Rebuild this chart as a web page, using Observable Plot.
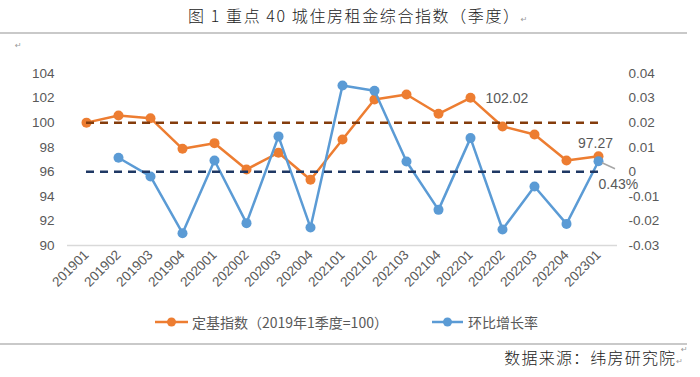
<!DOCTYPE html>
<html>
<head>
<meta charset="utf-8">
<script src="https://cdn.jsdelivr.net/npm/d3@7"></script>
<script src="https://cdn.jsdelivr.net/npm/@observablehq/plot@0.6"></script>
<style>
  html, body { margin: 0; padding: 0; background: #fff; }
  #page { position: relative; width: 700px; height: 377px; overflow: hidden; font-family: "Liberation Sans", "Noto Sans CJK SC", sans-serif; }
  .abs { position: absolute; white-space: nowrap; }
  .title { left: 188px; top: 4px; font-family: "Noto Sans CJK SC", sans-serif; font-weight: 300; font-size: 16px; line-height: 22px; color: #222; letter-spacing: 1.6px; }
  .hr { position: absolute; left: 0; width: 687px; height: 1.5px; background: #c9c9c9; }
  .mark { font-size: 8px; color: #999; font-family: "DejaVu Sans", sans-serif; font-weight: 400; }
  .legend { top: 312px; left: 0; font-size: 14px; line-height: 20px; color: #595959; font-family: "Noto Sans CJK SC", sans-serif; }
  .footer { right: 17px; top: 346px; font-family: "Noto Sans CJK SC", sans-serif; font-weight: 300; font-size: 16px; line-height: 22px; color: #222; letter-spacing: 1.2px; }
</style>
</head>
<body>
<div id="page"></div>
<script>
// ---- data ----
const quarters = ["201901","201902","201903","201904","202001","202002","202003","202004","202101","202102","202103","202104","202201","202202","202203","202204","202301"];
const indexValues = [100.00, 100.58, 100.36, 97.87, 98.33, 96.19, 97.55, 95.35, 98.63, 101.88, 102.29, 100.72, 102.02, 99.69, 99.04, 96.92, 97.27];
const growthValues = [null, 0.0057, -0.0019, -0.0250, 0.0046, -0.0209, 0.0144, -0.0227, 0.0351, 0.0330, 0.0042, -0.0155, 0.0137, -0.0235, -0.0060, -0.0212, 0.0043];
const leftTicks = [90, 92, 94, 96, 98, 100, 102, 104];
const rightTicks = [-0.03, -0.02, -0.01, 0, 0.01, 0.02, 0.03, 0.04];
const indexRef = 100;
const growthRef = 0;
const titleText = "图 1 重点 40 城住房租金综合指数（季度）";
const seriesNames = ["定基指数（2019年1季度=100）", "环比增长率"];
const sourceText = "数据来源：纬房研究院";
const labelledIndex = ["202201", "202301"];
const labelledGrowth = ["202301"];

const ORANGE = "#ED7D31", BLUE = "#5B9BD5";
const ORANGE_DASH = "#843C0C", BLUE_DASH = "#1F3864";

// right axis (growth) mapped onto left axis (index): 0 -> 96, 0.04 -> 104
const toLeft = v => 96 + v * 200;

const rows = quarters.map((q, i) => ({q, idx: indexValues[i], g: growthValues[i]}));
const gRows = rows.filter(d => d.g != null);

const chart = Plot.plot({
  width: 700,
  height: 310,
  marginTop: 73,
  marginBottom: 65,
  marginLeft: 67,
  marginRight: 83,
  style: {fontFamily: "'Liberation Sans', 'Noto Sans CJK SC', sans-serif", fontSize: "13.5px", color: "#595959", background: "transparent", overflow: "visible"},
  x: {type: "point", domain: quarters, padding: 0.5, align: 0.5},
  y: {domain: [90, 104]},
  marks: [
    Plot.ruleY([90], {stroke: "#d9d9d9", strokeWidth: 1.5}),
    Plot.axisY(leftTicks, {anchor: "left", tickSize: 0, tickPadding: 13, label: null, fill: "#595959", fontSize: 13.5}),
    Plot.axisY(rightTicks.map(toLeft), {anchor: "right", tickSize: 0, tickPadding: 11, label: null, fill: "#595959", fontSize: 13.5,
      tickFormat: v => String(+((v - 96) / 200).toFixed(2))}),
    Plot.axisX({tickRotate: -45, tickSize: 0, tickPadding: 7, label: null, fill: "#595959", fontSize: 13.5}),
    Plot.line(rows, {x: "q", y: "idx", stroke: ORANGE, strokeWidth: 2.5}),
    Plot.dot(rows, {x: "q", y: "idx", r: 5, fill: ORANGE, stroke: null}),
    Plot.line(gRows, {x: "q", y: d => toLeft(d.g), stroke: BLUE, strokeWidth: 2.5}),
    Plot.dot(gRows, {x: "q", y: d => toLeft(d.g), r: 5, fill: BLUE, stroke: null}),
    Plot.ruleY([{y: indexRef}], {y: "y", x1: () => quarters[0], x2: () => quarters[quarters.length - 1], stroke: ORANGE_DASH, strokeWidth: 2.5, strokeDasharray: "8,6"}),
    Plot.ruleY([{y: toLeft(growthRef)}], {y: "y", x1: () => quarters[0], x2: () => quarters[quarters.length - 1], stroke: BLUE_DASH, strokeWidth: 2.5, strokeDasharray: "8,6"}),
    // labels
    Plot.text(rows.filter(d => d.q === labelledIndex[0]), {x: "q", y: "idx", text: d => d.idx.toFixed(2), textAnchor: "start", dx: 15, dy: 1, fill: "#595959", fontSize: 14}),
    Plot.text(rows.filter(d => d.q === labelledIndex[1]), {x: "q", y: "idx", text: d => d.idx.toFixed(2), textAnchor: "middle", dx: -3, dy: -13, fill: "#595959", fontSize: 14}),
    Plot.text(gRows.filter(d => labelledGrowth.includes(d.q)), {x: "q", y: d => toLeft(d.g), text: d => (d.g * 100).toFixed(2) + "%", textAnchor: "start", dx: 0, dy: 23, fill: "#595959", fontSize: 14})
  ]
});
chart.style.position = "absolute";
chart.style.left = "0px";
chart.style.top = "0px";

// leader line for the growth label, positioned with the chart's scales
{
  const xs = chart.scale("x"), ys = chart.scale("y");
  const last = gRows.find(d => d.q === labelledGrowth[0]);
  const px = xs.apply(last.q), py = ys.apply(toLeft(last.g));
  const ns = "http://www.w3.org/2000/svg";
  const ln = document.createElementNS(ns, "line");
  ln.setAttribute("x1", px + 4); ln.setAttribute("y1", py + 2);
  ln.setAttribute("x2", px + 17); ln.setAttribute("y2", py + 8);
  ln.setAttribute("stroke", "#a6a6a6"); ln.setAttribute("stroke-width", "1.5");
  chart.appendChild(ln);
}

const page = document.getElementById("page");
page.innerHTML = `
  <div class="abs title">${titleText}<span class="mark">↵</span></div>
  <div class="hr" style="top:32px"></div>
  <div class="abs mark" style="left:15px; top:41px;">↵</div>
  <div class="abs legend" style="width:700px;">
    <svg width="700" height="20" style="position:absolute;left:0;top:0;overflow:visible">
      <line x1="155" x2="188" y1="10" y2="10" stroke="${ORANGE}" stroke-width="2.5"/>
      <circle cx="171.5" cy="10" r="4.5" fill="${ORANGE}"/>
      <line x1="432" x2="463" y1="10" y2="10" stroke="${BLUE}" stroke-width="2.5"/>
      <circle cx="447.5" cy="10" r="4.5" fill="${BLUE}"/>
    </svg>
    <span style="position:absolute;left:192px;top:0">${seriesNames[0]}</span>
    <span style="position:absolute;left:468px;top:0">${seriesNames[1]}</span>
  </div>
  <div class="hr" style="top:343px"></div>
  <div class="abs mark" style="left:681px; top:345px;">↵</div>
  <div class="abs footer">${sourceText}<span class="mark" style="letter-spacing:0">↵</span></div>
`;
page.appendChild(chart);
</script>
</body>
</html>
